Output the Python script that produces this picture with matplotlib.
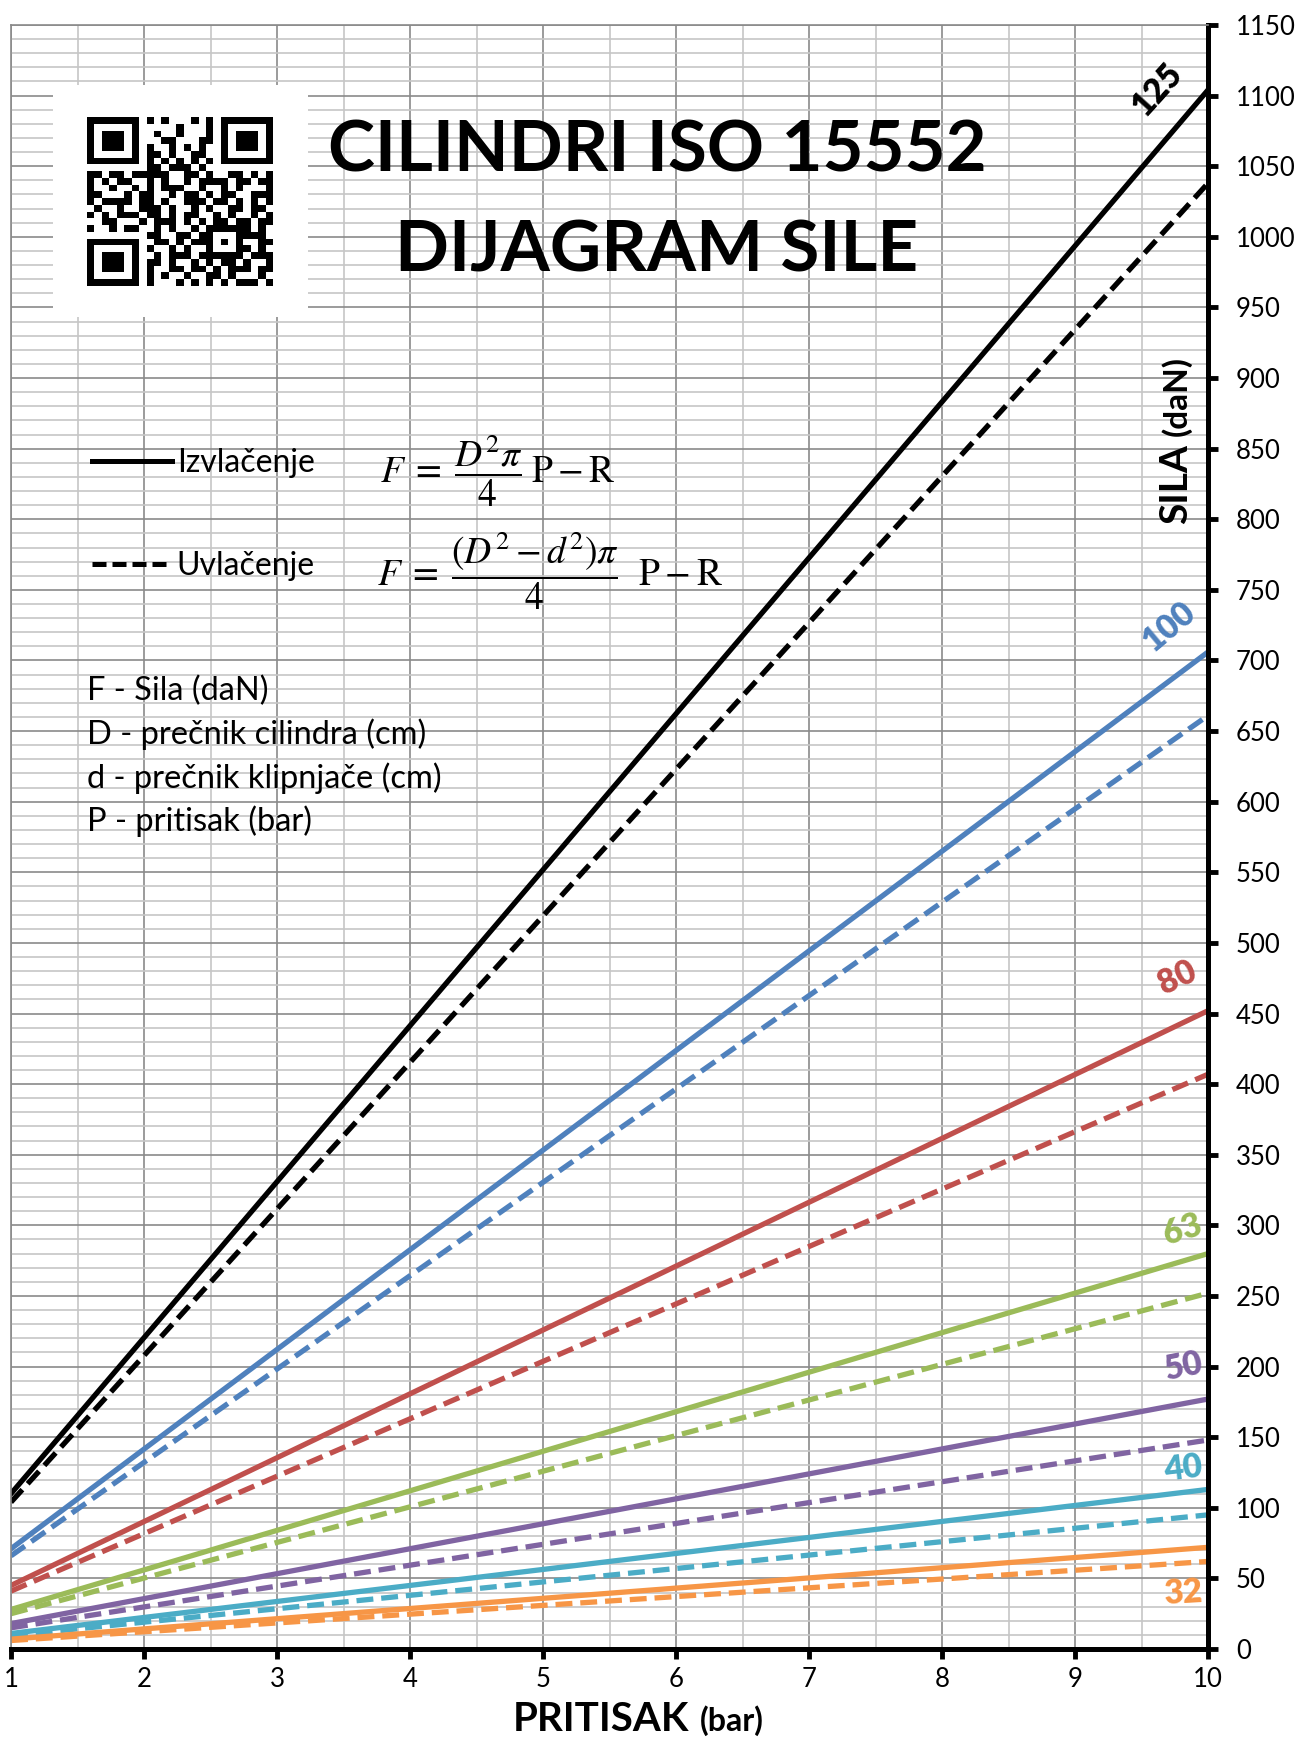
import matplotlib
matplotlib.use('Agg')
import matplotlib.pyplot as plt
from matplotlib.lines import Line2D
import numpy as np

plt.rcParams['font.family'] = ['Lato', 'DejaVu Sans']
plt.rcParams['mathtext.fontset'] = 'stix'

# pritisak (bar)
pritisak = [1, 10]
precnici = ['125', '100', '80', '63', '50', '40', '32']
boje = ['#000000', '#4F81BD', '#C0504D', '#9BBB59', '#8064A2', '#4BACC6', '#F79646']

# sila (daN) pri 1 bar i 10 bar, ocitano sa dijagrama
izvlacenje_1 = [110, 71, 45, 28, 18, 11, 7]
izvlacenje_10 = [1104, 706, 452, 280, 177, 113, 72]
uvlacenje_1 = [104, 66, 41, 25, 15, 9.5, 6]
uvlacenje_10 = [1038, 661, 407, 252, 148, 95, 62]

x_oznake = list(range(1, 11))
y_oznake = list(range(0, 1151, 50))

legenda = ['Izvlačenje', 'Uvlačenje']
formule = [r'$F\;=\;\dfrac{D^2\pi}{4}\;\mathrm{P} - \mathrm{R}$',
           r'$F\;=\;\dfrac{(D^2 - d^2)\pi}{4}\ \ \mathrm{P} - \mathrm{R}$']
opis = ['F - Sila (daN)', 'D - prečnik cilindra (cm)',
        'd - prečnik klipnjače (cm)', 'P - pritisak (bar)']

qr = [
    "#######.#.#...#.#.#######",
    "#.....#.....#...#.#.....#",
    "#.###.#..#..#...#.#.###.#",
    "#.###.#...##...##.#.###.#",
    "#.###.#.#..#.#.#..#.###.#",
    "#.....#.##.#..##..#.....#",
    "#######.#.#.#.#.#.#######",
    "........##.###.#.........",
    "##.##.#####..##.#..##.#.#",
    "#.#.##..#.#..#.####.##.##",
    "#..#..#.#.###..#..#.#...#",
    "##...#.##..#.##.#.##..###",
    "#.####.##.#..###.##.#.#.#",
    ".#..#..###.#..#.#..##.##.",
    "#.#.###.##.#.##..#.#..#.#",
    "..##...#.###.#.#.##.##.##",
    "#..#.##..#.#..#.######.#.",
    "........##..##.##...####.",
    "#######..##.#.###.#.#..##",
    "#.....#.#..#.#..#...##.#.",
    "#.###.#..#.###.######.###",
    "#.###.#.##.#..#.#.##.#..#",
    "#.###.#.#..##.##.#.###.##",
    "#.....#.#.#..#..##.#...#.",
    "#######.#...#.#.#.#.###.#",
]

W, H = 1301, 1738
fig = plt.figure(figsize=(W / 100, H / 100), dpi=100)


def fbox(x0, y0, x1, y1):
    return [x0 / W, 1 - y1 / H, (x1 - x0) / W, (y1 - y0) / H]


ax = fig.add_axes(fbox(11, 25, 1208, 1649))
ax.set_xlim(1, 10)
ax.set_ylim(0, 1150)
ax.set_xticks(x_oznake)
ax.set_xticks(np.arange(1.5, 10, 1), minor=True)
ax.set_yticks(y_oznake)
ax.set_yticks(range(0, 1151, 10), minor=True)
ax.grid(which='major', color='#8a8a8a', lw=1.2)
ax.grid(which='minor', color='#c6c6c6', lw=1.2)
ax.set_axisbelow(True)
ax.yaxis.tick_right()
ax.tick_params(which='minor', length=0)
ax.tick_params(which='major', direction='out', length=7, width=3.5, labelsize=18.5)
ax.tick_params(axis='y', pad=13)
ax.tick_params(axis='x', pad=6)
for s in ['right', 'bottom']:
    ax.spines[s].set_linewidth(3.6)
for s in ['left', 'top']:
    ax.spines[s].set_color('#8a8a8a')
    ax.spines[s].set_linewidth(1.2)

for i in range(len(precnici)):
    ax.plot(pritisak, [izvlacenje_1[i], izvlacenje_10[i]], color=boje[i], lw=3.8)
    ax.plot(pritisak, [uvlacenje_1[i], uvlacenje_10[i]], color=boje[i], lw=3.8,
            dashes=(3.2, 1.5))

# oznake precnika uz desni kraj linija
oz_x = [9.62, 9.71, 9.77, 9.81, 9.82, 9.81, 9.81]
oz_y = [1104, 724, 475, 297, 200, 128, 40]
oz_rot = [48, 40, 25, 17, 11, 7, 3]
for i in range(len(precnici)):
    ax.text(oz_x[i], oz_y[i], precnici[i], color=boje[i], fontsize=24,
            fontweight='heavy', rotation=oz_rot[i], rotation_mode='anchor',
            ha='center', va='center')

# QR kod
box = fig.add_axes(fbox(53, 85, 308, 317))
box.set_xticks([])
box.set_yticks([])
for s in box.spines.values():
    s.set_visible(False)
qa = fig.add_axes(fbox(87, 117, 273, 286))
qa.imshow(np.array([[1 if c == '#' else 0 for c in r] for r in qr]),
          cmap='gray_r', aspect='auto', interpolation='nearest')
qa.axis('off')

fig.text(657 / W, 1 - 172 / H, 'CILINDRI ISO 15552', ha='center', va='baseline',
         fontsize=51, fontweight='bold')
fig.text(657 / W, 1 - 272 / H, 'DIJAGRAM SILE', ha='center', va='baseline',
         fontsize=51, fontweight='bold')

handles = [Line2D([], [], color='k', lw=3.6),
           Line2D([], [], color='k', lw=3.6, dashes=(2.8, 1.2))]
fig.legend(handles=handles, labels=legenda, loc='upper left',
           bbox_to_anchor=(92 / W, 1 - 448 / H), bbox_transform=fig.transFigure,
           frameon=False, fontsize=23, handlelength=2.5, handletextpad=0.15,
           labelspacing=2.28, borderpad=0, borderaxespad=0)

fig.text(380 / W, 1 - 471 / H, formule[0], ha='left', va='center', fontsize=27)
fig.text(377 / W, 1 - 571 / H, formule[1], ha='left', va='center', fontsize=27)

for t, yy in zip(opis, [691, 734, 778, 821]):
    fig.text(87 / W, 1 - yy / H, t, ha='left', va='center', fontsize=23.5)

fig.text(689 / W, 1 - 1731 / H, 'PRITISAK', ha='right', va='baseline',
         fontsize=29, fontweight='bold')
fig.text(700 / W, 1 - 1731 / H, '(bar)', ha='left', va='baseline',
         fontsize=23, fontweight='bold')
fig.text(1187 / W, 1 - 524 / H, 'SILA', rotation=90, rotation_mode='anchor',
         ha='left', va='baseline', fontsize=28, fontweight='bold')
fig.text(1187 / W, 1 - 436 / H, '(daN)', rotation=90, rotation_mode='anchor',
         ha='left', va='baseline', fontsize=24, fontweight='bold')

fig.savefig('out.png', dpi=100)
